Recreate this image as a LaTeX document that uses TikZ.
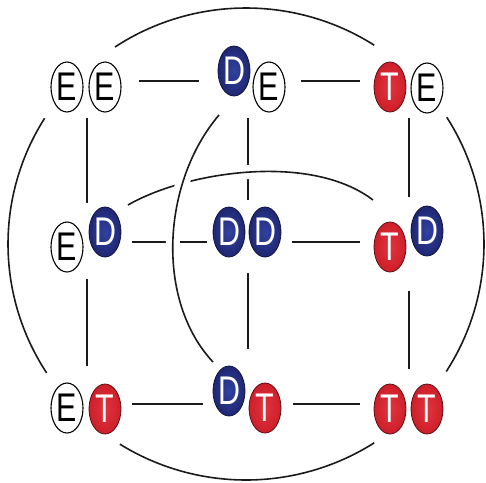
\documentclass[tikz,border=0pt]{standalone}
\usepackage{fontspec}
\setmainfont{Liberation Sans}
\newfontfamily\eggfont[FakeStretch=0.76]{Liberation Sans}
\usetikzlibrary{shapes.geometric,backgrounds}
\definecolor{navy}{HTML}{1F2772}
\definecolor{navyc}{HTML}{3142A0}
\definecolor{redT}{HTML}{CC1F2A}
\definecolor{redc}{HTML}{E2343E}
\definecolor{lineC}{HTML}{1A1A1A}
\begin{document}
\begin{tikzpicture}[x=1pt,y=1pt,
  egg/.style={ellipse, minimum width=32pt, minimum height=50pt, inner sep=0pt,
    font=\eggfont\fontsize{40}{40}\selectfont},
  eE/.style={egg, draw=black, line width=1.1pt, fill=white, text=black},
  eD/.style={egg, draw=navy!55!black, line width=0.8pt, inner color=navyc, outer color=navy, text=white},
  eT/.style={egg, draw=redT!45!black, line width=0.8pt, inner color=redc, outer color=redT, text=white},
  link/.style={draw=lineC, line width=1.6pt},
  overlink/.style={link, preaction={draw=white, line width=14pt}}
]
\useasboundingbox (0,0) rectangle (486,-482);

% ellipses
\node[eE] (tlA) at (67,-87) {E};
\node[eE] (tlB) at (105,-87) {E};
\node[eD] (tmA) at (234,-71) {D};
\node[eE] (tmB) at (269,-87) {E};
\node[eT] (trA) at (390,-87) {T};
\node[eE] (trB) at (427,-88) {E};
\node[eE] (mlA) at (67,-247) {E};
\node[eD] (mlB) at (105,-232) {D};
\node[eD] (mmA) at (229,-232) {D};
\node[eD] (mmB) at (265,-232) {D};
\node[eT] (mrA) at (390,-247) {T};
\node[eD] (mrB) at (427,-231) {D};
\node[eE] (blA) at (67,-408) {E};
\node[eT] (blB) at (105,-409) {T};
\node[eD] (bmA) at (229,-391) {D};
\node[eT] (bmB) at (265,-408) {T};
\node[eT] (brA) at (390,-409) {T};
\node[eT] (brB) at (427,-409) {T};

% pair anchor points
\coordinate (pTL) at (87,-81);
\coordinate (pTM) at (248,-81);
\coordinate (pTR) at (409,-81);
\coordinate (pML) at (87,-242);
\coordinate (pMM) at (248,-242);
\coordinate (pMR) at (409,-242);
\coordinate (pBL) at (87,-404);
\coordinate (pBM) at (248,-404);
\coordinate (pBR) at (409,-404);
\coordinate (oc) at (246,-244);
\coordinate (lrS) at (128,-205);
\coordinate (lrE) at (373,-200);
\coordinate (ddS) at (219,-115);
\coordinate (ddE) at (213,-362);

\begin{scope}[on background layer]
  % horizontal
  \draw[link, shorten <=52pt, shorten >=49pt] (pTL) -- (pTM);
  \draw[link, shorten <=53pt, shorten >=49pt] (pTM) -- (pTR);
  \draw[link, shorten <=45pt, shorten >=41pt] (pML) -- (pMM);
  \draw[link, shorten <=44pt, shorten >=49pt] (pMM) -- (pMR);
  \draw[link, shorten <=45pt, shorten >=45pt] (pBL) -- (pBM);
  \draw[link, shorten <=45pt, shorten >=49pt] (pBM) -- (pBR);
  % vertical
  \draw[link, shorten <=37pt, shorten >=39pt] (pTL) -- (pML);
  \draw[link, shorten <=37pt, shorten >=38pt] (pML) -- (pBL);
  \draw[link, shorten <=37pt, shorten >=42pt] (pTM) -- (pMM);
  \draw[link, shorten <=31pt, shorten >=55pt] (pMM) -- (pBM);
  \draw[link, shorten <=37pt, shorten >=45pt] (pTR) -- (pMR);
  \draw[link, shorten <=49pt, shorten >=35pt] (pMR) -- (pBR);
  % inner curves
  \draw[overlink] (lrS) .. controls (185,-172) and (310,-152) .. (lrE);
  \draw[overlink] (ddS) .. controls (162,-182) and (155,-300) .. (ddE);
  % outer arcs
  \draw[link] ([shift={(123.4:238pt and 236pt)}]oc) arc[start angle=123.4, end angle=57.4, x radius=238pt, y radius=236pt];
  \draw[link] ([shift={(147.8:238pt and 236pt)}]oc) arc[start angle=147.8, end angle=213.1, x radius=238pt, y radius=236pt];
  \draw[link] ([shift={(238:238pt and 236pt)}]oc) arc[start angle=238, end angle=302.6, x radius=238pt, y radius=236pt];
  \draw[link] ([shift={(-32.7:238pt and 236pt)}]oc) arc[start angle=-32.7, end angle=32.5, x radius=238pt, y radius=236pt];
\end{scope}
\end{tikzpicture}
\end{document}
